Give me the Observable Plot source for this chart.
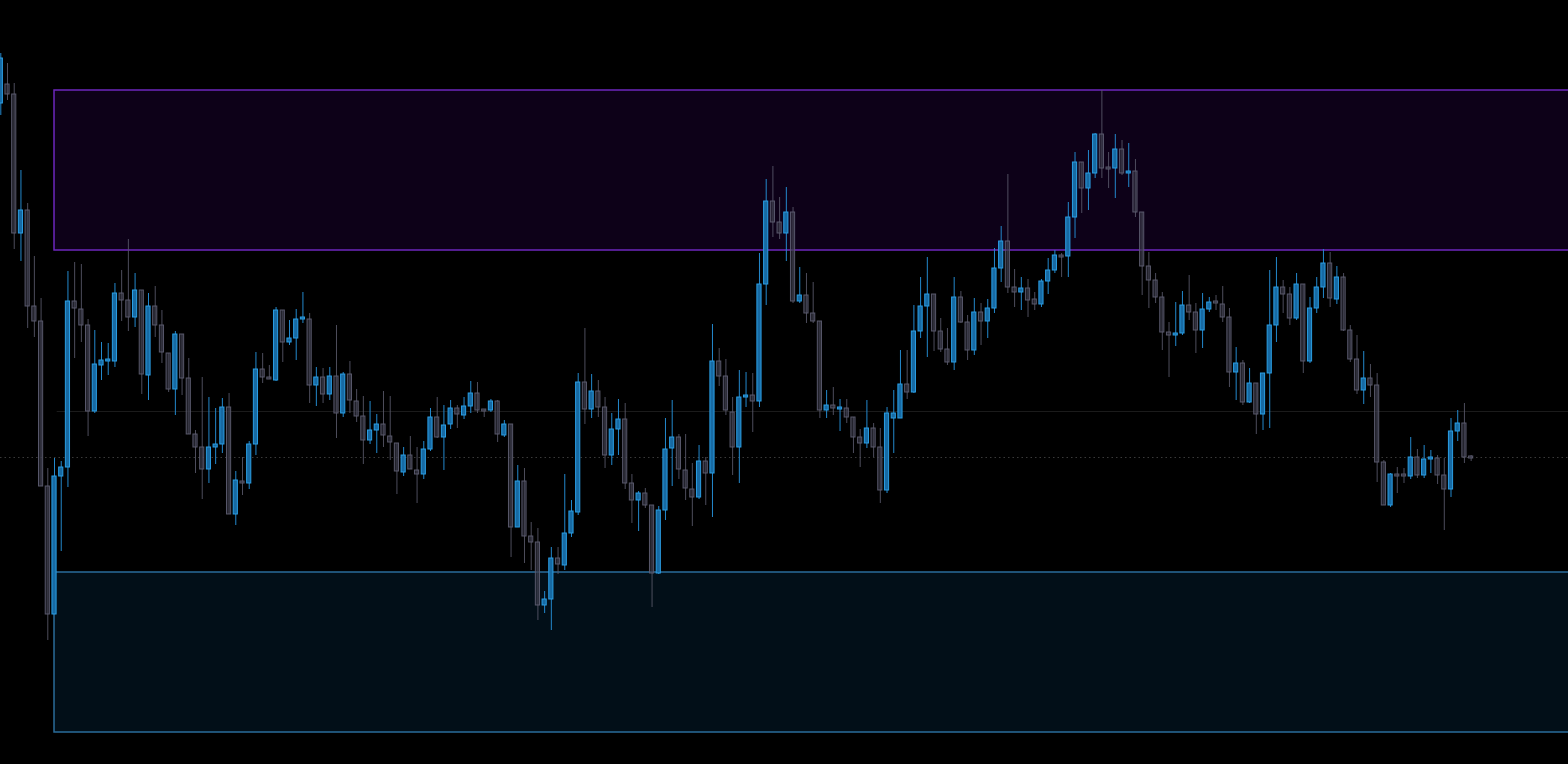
<!DOCTYPE html>
<html><head><meta charset="utf-8">
<script src="https://cdn.jsdelivr.net/npm/d3@7"></script>
<script src="https://cdn.jsdelivr.net/npm/@observablehq/plot@0.6"></script>
<style>html,body{margin:0;padding:0;background:#000;overflow:hidden}#chart svg{display:block}</style>
</head><body><div id="chart"></div>
<script>
const open = [697,716,706,567,590,494,479,314,186,324, 333,499,491,475,389,435,439,439,507,500, 483,510,425,494,475,447,411,466,422,366, 353,331,353,356,393,286,319,317,356,431, 423,420,490,458,462,481,481,415,423,406, 424,387,426,399,384,360,370,376,364,357, 328,345,330,326,351,383,363,376,392,385, 394,407,391,390,399,365,376,273,319,264, 258,195,201,242,235,267,288,418,391,409, 393,345,371,381,317,300,307,295,227,290, 352,363,330,311,303,339,327,439,424,388, 353,403,405,399,516,599,578,567,588,499, 505,487,479,390,395,391,392,383,363,357, 372,353,310,382,382,416,408,469,494,506, 469,451,438,503,478,450,488,479,492,532, 559,513,508,512,501,496,519,530,545,544, 583,638,612,627,666,633,632,651,627,629, 588,534,520,503,468,465,467,495,488,470, 491,499,496,483,428,437,398,417,386,427, 475,513,506,482,516,439,492,513,537,501, 523,470,441,410,422,415,338,295,326,326, 324,343,325,341,342,325,311,369,377,344];
const high = [747,737,717,630,597,544,502,332,342,339, 529,538,536,481,470,458,457,517,530,561, 527,510,507,514,490,447,469,466,442,370, 423,403,392,402,407,329,343,359,448,447, 435,493,490,480,491,508,487,433,432,433, 475,428,439,411,404,399,386,409,404,357, 353,364,353,359,392,403,395,400,395,403, 419,418,391,401,400,380,376,335,332,278, 272,209,253,253,326,300,427,472,426,420, 403,387,401,397,326,309,312,295,294,382, 400,366,366,337,355,343,476,452,441,403, 430,428,427,547,621,634,603,613,593,533, 527,518,479,410,413,401,401,383,371,400, 377,372,393,410,450,450,495,523,543,506, 482,472,523,509,485,502,497,501,552,574, 626,531,523,521,508,521,542,550,547,598, 648,638,650,667,710,648,666,660,657,641, 588,548,527,508,478,498,509,525,497,507, 503,505,514,492,453,440,432,417,427,530, 543,520,513,527,516,503,523,551,548,534, 527,475,465,449,436,427,340,327,333,332, 363,351,355,350,345,342,382,390,397,345];
const low = [685,700,551,539,472,463,314,160,186,249, 313,442,458,364,387,420,425,433,479,469, 473,406,400,463,437,408,385,405,366,327, 301,317,336,347,286,275,305,311,345,417, 421,419,438,455,440,477,397,394,397,400, 362,383,387,378,336,356,347,353,340,306, 324,331,297,321,349,362,330,371,372,381, 387,387,383,388,358,363,243,273,237,230, 180,187,170,226,230,263,285,376,382,383, 332,335,345,311,277,269,292,193,226,280, 314,321,300,274,301,295,283,414,385,325, 317,393,368,393,495,563,561,539,497,497, 477,477,382,382,385,369,377,347,333,352, 343,297,307,347,382,401,407,462,443,449, 448,435,430,477,440,445,455,462,487,518, 507,493,490,483,490,493,506,527,523,523, 562,587,590,622,622,612,602,625,613,583, 505,492,497,450,423,454,465,480,447,452, 488,490,478,413,400,395,397,366,370,372, 458,487,475,480,427,437,487,502,493,496, 469,438,406,396,403,318,295,293,307,317, 321,322,322,327,316,270,303,359,337,339];
const close = [742,706,567,590,494,479,314,186,324,333, 499,492,475,389,436,440,441,507,500,483, 510,426,494,475,448,411,466,422,366,353, 331,353,356,393,286,320,317,356,431,423, 421,490,458,462,481,483,415,423,406,424, 387,426,400,384,360,370,376,365,358,329, 345,331,326,351,383,363,375,392,386,394, 407,390,389,399,366,376,273,319,264,258, 195,201,242,236,267,289,418,391,409,393, 345,371,381,317,300,307,295,227,290,351, 363,331,312,303,339,327,439,424,390,353, 403,405,399,516,599,578,567,588,499,505, 487,479,390,395,392,393,383,363,357,372, 353,310,387,387,416,408,469,494,506,469, 451,438,503,478,450,488,479,492,532,559, 513,508,512,500,496,519,530,545,543,583, 638,612,627,666,632,631,651,627,629,588, 534,520,503,468,465,467,495,488,470,491, 498,497,483,428,437,398,417,386,427,475, 513,506,482,516,439,492,513,537,502,523, 470,441,410,422,415,338,295,326,324,324, 343,325,341,343,325,311,369,377,343,342];

// zones (supply / demand) and reference levels
const zoneNames = ["supply", "demand"];
const zoneStart = [8, 8];
const zoneTop = [710, 228];
const zoneBottom = [550, 68];
const levelSolid = [389];
const levelDotted = [343];

const bars = open.map((o, i) => ({i, open: o, high: high[i], low: low[i], close: close[i], up: close[i] >= o}));
const zones = zoneNames.map((n, k) => ({name: n, start: zoneStart[k], top: zoneTop[k], bottom: zoneBottom[k]}));
const up = bars.filter(d => d.up), down = bars.filter(d => !d.up);
const XMAX = 233.5;
const hw = 0.31;

const chart = Plot.plot({
  width: 1568, height: 764,
  marginTop: 0, marginBottom: 0, marginLeft: 0, marginRight: 0,
  x: {domain: [-0.045, XMAX], axis: null},
  y: {domain: [36, 800], axis: null},
  style: {background: "#000"},
  marks: [
    Plot.rect(zones.filter(z => z.name === "supply"), {x1: "start", x2: XMAX + 5, y1: "bottom", y2: "top", fill: "#0d0118", stroke: "#6d27bd", strokeWidth: 1.5, clip: true}),
    Plot.rect(zones.filter(z => z.name === "demand"), {x1: "start", x2: XMAX + 5, y1: "bottom", y2: "top", fill: "#020f18", stroke: "#2a6c9a", strokeWidth: 1.5, clip: true}),
    Plot.ruleY(levelSolid, {x1: 8.4, x2: XMAX, stroke: "#1b1b1b", strokeWidth: 1}),
    Plot.ruleY(levelDotted, {stroke: "#3a3a3a", strokeWidth: 1, strokeDasharray: "1.5,3"}),
    Plot.ruleX(down, {x: "i", y1: "low", y2: "high", stroke: "rgba(90,90,108,0.85)", strokeWidth: 1}),
    Plot.ruleX(up, {x: "i", y1: "low", y2: "high", stroke: "#2388cc", strokeWidth: 1}),
    Plot.rect(down, {x1: d => d.i - hw, x2: d => d.i + hw, y1: "open", y2: "close", fill: "rgba(55,55,70,0.6)", stroke: "rgba(95,95,115,0.9)", strokeWidth: 1}),
    Plot.rect(up, {x1: d => d.i - hw, x2: d => d.i + hw, y1: "open", y2: "close", fill: "#176aa3", stroke: "#2b9ee4", strokeWidth: 1})
  ]
});
document.getElementById("chart").appendChild(chart);
</script>
</body></html>
